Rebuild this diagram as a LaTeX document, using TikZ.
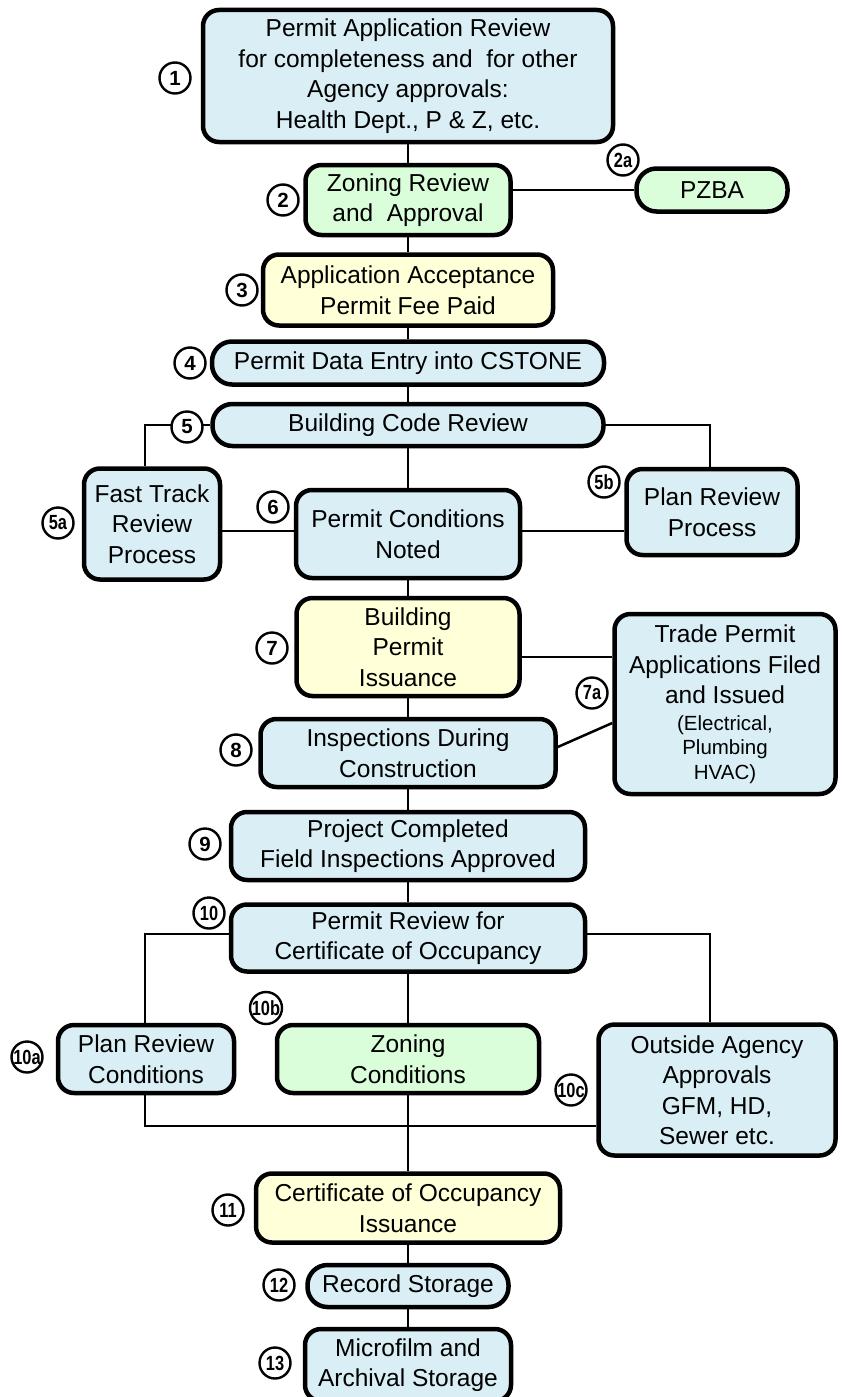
\documentclass[tikz,border=0pt]{standalone}
\usepackage{fontspec}
\setmainfont{Liberation Sans}
\newfontfamily\narrownum[FakeStretch=0.8]{Liberation Sans}
\usepackage{tikz}
\usetikzlibrary{calc, positioning}
\definecolor{boxblue}{RGB}{217,239,245}
\definecolor{boxgreen}{RGB}{217,254,217}
\definecolor{boxyellow}{RGB}{255,255,216}
\tikzset{
    x=1pt, y=-1pt,
    proc/.style ={rectangle, draw, line width=4.5pt, rounded corners=16pt, fill=boxblue,
                  align=center, inner sep=0pt, font=\fontsize{24.5}{30.5}\selectfont},
    pill/.style ={proc, rounded corners=20pt},
    zone/.style ={fill=boxgreen},
    issue/.style ={fill=boxyellow},
    num/.style ={circle, draw, line width=2.4pt, fill=white, minimum size=31pt, inner sep=0pt,
                 font=\fontsize{20.5}{20.5}\selectfont\bfseries},
    numw/.style ={num, font=\fontsize{20.5}{20.5}\narrownum\bfseries},
    link/.style ={line width=2.5pt}
    }
\newcommand{\smalltrade}{\fontsize{20.5}{24}\selectfont}

\begin{document}
\begin{tikzpicture}
    \useasboundingbox (0,0) rectangle (841,1397);
    % main column
    \node (1) at (408,76)    [proc, minimum width=410, minimum height=132]
        {Permit Application Review\\for completeness and\ \ for other\\Agency approvals:\\Health Dept., P \& Z, etc.};
    \node (2) at (408,200)   [proc, zone, minimum width=205, minimum height=70] {Zoning Review\\and\ \ Approval};
    \node (2a) at (712,190)  [pill, zone, minimum width=151, minimum height=43] {PZBA};
    \node (3) at (408,290)   [proc, issue, minimum width=290, minimum height=71] {Application Acceptance\\Permit Fee Paid};
    \node (4) at (408,363)   [pill, minimum width=392, minimum height=43] {Permit Data Entry into CSTONE};
    \node (5) at (408,425)   [pill, minimum width=391, minimum height=42] {Building Code Review};
    \node (5a) at (152,524)  [proc, minimum width=136, minimum height=111] {Fast Track\\Review\\Process};
    \node (6) at (408,534)   [proc, minimum width=224, minimum height=88] {Permit Conditions\\Noted};
    \node (5b) at (712,512)  [proc, minimum width=171, minimum height=86] {Plan Review\\Process};
    \node (7) at (408,647)   [proc, issue, minimum width=223, minimum height=98] {Building\\Permit\\Issuance};
    \node (7a) at (725,704)  [proc, minimum width=221, minimum height=180]
        {Trade Permit\\Applications Filed\\and Issued\\[-4pt]\smalltrade (Electrical,\\[-6pt]\smalltrade Plumbing\\[-6pt]\smalltrade HVAC)};
    \node (8) at (408,753)   [proc, minimum width=295, minimum height=68] {Inspections During\\Construction};
    \node (9) at (408,846)   [proc, minimum width=354, minimum height=68] {Project Completed\\Field Inspections Approved};
    \node (10) at (408,938)  [proc, minimum width=354, minimum height=67] {Permit Review for\\Certificate of Occupancy};
    \node (10a) at (146,1059) [proc, minimum width=176, minimum height=68] {Plan Review\\Conditions};
    \node (10b) at (408,1059) [proc, zone, minimum width=262, minimum height=68] {Zoning\\Conditions};
    \node (10c) at (717,1090) [proc, minimum width=237, minimum height=131] {Outside Agency\\Approvals\\GFM, HD,\\Sewer etc.};
    \node (11) at (408,1208) [proc, issue, minimum width=304, minimum height=69] {Certificate of Occupancy\\Issuance};
    \node (12) at (408,1286) [pill, minimum width=201, minimum height=42] {Record Storage};
    \node (13) at (408,1365) [proc, minimum width=206, minimum height=72] {Microfilm and\\Archival Storage};

    % connectors
    \draw[link] (1) -- (2);
    \draw[link] (2a.west) -- (2a.west -| 2.east);
    \draw[link] (2) -- (3);
    \draw[link] (3) -- (4);
    \draw[link] (4) -- (5);
    \draw[link] (5.west) -| ([xshift=-7pt]5a.north);
    \draw[link] (5.east) -| ([xshift=-2pt]5b.north);
    \draw[link] (5) -- (6);
    \draw[link] ([yshift=3pt]6.west) -- ([yshift=3pt]6.west -| 5a.east);
    \draw[link] ([yshift=3pt]6.east) -- ([yshift=3pt]6.east -| 5b.west);
    \draw[link] (6) -- (7);
    \draw[link] ([yshift=-10pt]7.east) -- ([yshift=-10pt]7.east -| 7a.west);
    \draw[link] ([yshift=6pt]8.east) -- ([yshift=-19pt]7a.west);
    \draw[link] (7) -- (8);
    \draw[link] (8) -- (9);
    \draw[link] (9) -- (10);
    \draw[link] ([yshift=4pt]10.west) -| ([xshift=-1pt]10a.north);
    \draw[link] ([yshift=4pt]10.east) -| ([xshift=-7pt]10c.north);
    \draw[link] (10) -- (10b);
    \draw[link] (10b) -- (11);
    \draw[link] ([xshift=-1pt]10a.south) |- ([yshift=-36pt]10c.west);
    \draw[link] (11) -- (12);
    \draw[link] (12) -- (13);

    % step numbers
    \node (n1) at (175,78)    [num] {1};
    \node (n2) at (283,200)   [num] {2};
    \node (n2a) at (623,160)  [numw] {2a};
    \node (n3) at (242,290)   [num] {3};
    \node (n4) at (190,363)   [num] {4};
    \node (n5) at (187,427)   [num] {5};
    \node (n5a) at (58,523)   [numw] {5a};
    \node (n6) at (273,507)   [num] {6};
    \node (n5b) at (604,482)  [numw] {5b};
    \node (n7) at (272,648)   [num] {7};
    \node (n7a) at (592,693)  [numw] {7a};
    \node (n8) at (236,750)   [num] {8};
    \node (n9) at (205,844)   [num] {9};
    \node (n10) at (209,913)  [numw] {10};
    \node (n10a) at (27,1057) [numw] {10a};
    \node (n10b) at (266,1008) [numw] {10b};
    \node (n10c) at (571,1090) [numw] {10c};
    \node (n11) at (228,1210) [numw] {11};
    \node (n12) at (279,1285) [numw] {12};
    \node (n13) at (275,1363) [numw] {13};
\end{tikzpicture}
\end{document}
